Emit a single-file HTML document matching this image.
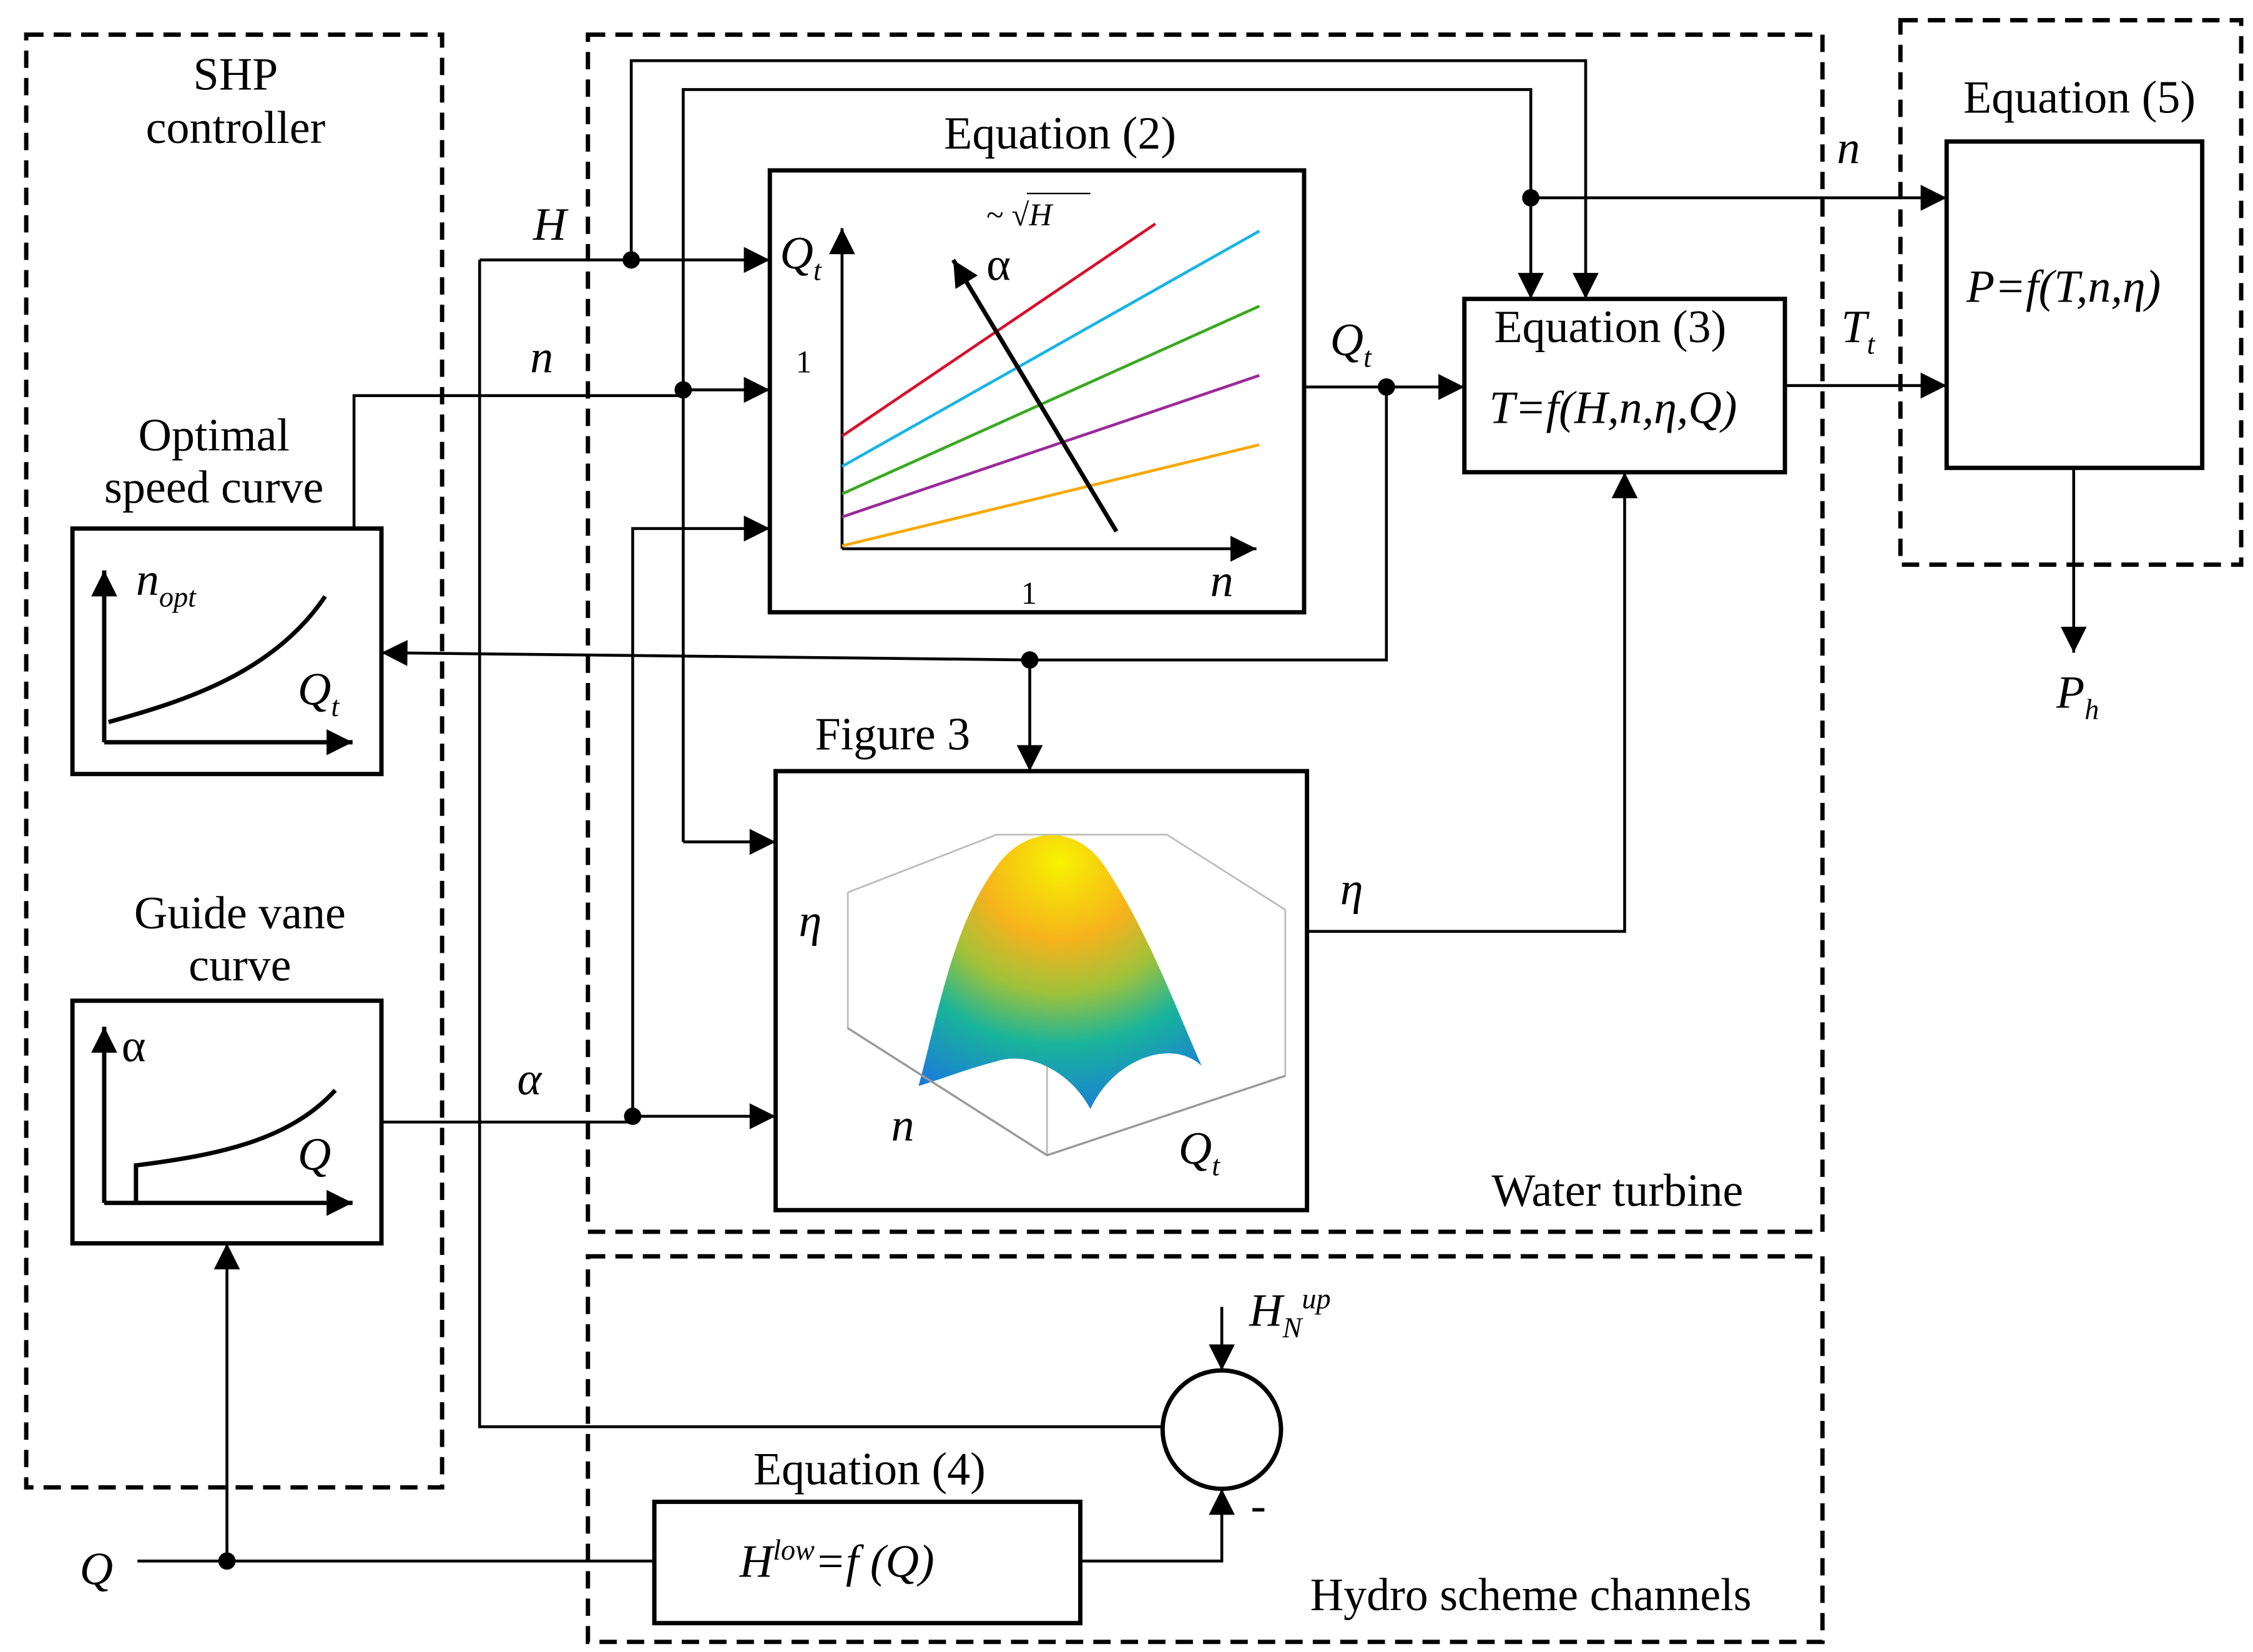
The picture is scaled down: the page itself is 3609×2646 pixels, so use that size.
<!DOCTYPE html>
<html><head><meta charset="utf-8"><style>
html,body{margin:0;padding:0;background:#fff;}
svg{display:block;}
text{font-family:"Liberation Serif",serif;fill:#000;}
.it{font-style:italic;}
</style></head><body>
<svg width="3609" height="2646" viewBox="0 0 1560 1144" xmlns="http://www.w3.org/2000/svg">
<defs>
<marker id="a" viewBox="0 0 10 10" refX="10" refY="5" markerWidth="8" markerHeight="8" markerUnits="userSpaceOnUse" orient="auto"><path d="M0,0 L10,5 L0,10 z" fill="#000"/></marker>
<marker id="b" viewBox="0 0 10 10" refX="10" refY="5" markerWidth="22" markerHeight="18" markerUnits="userSpaceOnUse" orient="auto"><path d="M0,0 L10,5 L0,10 z" fill="#000"/></marker>
<radialGradient id="g" cx="0.5" cy="0.1" r="0.95">
<stop offset="0" stop-color="#f7f200"/><stop offset="0.3" stop-color="#f6b21c"/><stop offset="0.5" stop-color="#9fc23a"/><stop offset="0.7" stop-color="#19b49a"/><stop offset="1" stop-color="#1a78e0"/>
</radialGradient>
</defs>
<g fill="none" stroke="#000" stroke-width="3" stroke-dasharray="12,7">
<rect x="18" y="24" width="288" height="1006"/>
<rect x="407" y="24" width="855" height="829"/>
<rect x="1316" y="14" width="236" height="377"/>
<rect x="407" y="870" width="855" height="267"/>
</g>
<g fill="none" stroke="#000" stroke-width="3">
<rect x="533" y="118" width="370" height="306"/>
<rect x="1014" y="207" width="222" height="120"/>
<rect x="1348" y="98" width="177" height="226"/>
<rect x="537" y="534" width="368" height="304"/>
<rect x="50" y="366" width="214" height="170"/>
<rect x="50" y="693" width="214" height="168"/>
<rect x="453" y="1040" width="295" height="84"/>
<circle cx="846" cy="990" r="41"/>
</g>
<g fill="none" stroke="#000" stroke-width="2">
<path d="M332,180 H533" marker-end="url(#b)"/>
<path d="M332,180 V988 H805"/>
<path d="M437,180 V42 H1098 V207" marker-end="url(#b)"/>
<path d="M473,583 V62 H1060 V207" marker-end="url(#b)"/>
<path d="M473,583 H537" marker-end="url(#b)"/>
<path d="M245,366 V274 H473 V270 H533" marker-end="url(#b)"/>
<path d="M1060,137 H1348" marker-end="url(#b)"/>
<path d="M264,777 H438 V773 H537" marker-end="url(#b)"/>
<path d="M438,773 V366 H533" marker-end="url(#b)"/>
<path d="M903,268 H1014" marker-end="url(#b)"/>
<path d="M960,268 V457 H713 L264,452" marker-end="url(#b)"/>
<path d="M713,457 V534" marker-end="url(#b)"/>
<path d="M905,645 H1125 V327" marker-end="url(#b)"/>
<path d="M1236,267 H1348" marker-end="url(#b)"/>
<path d="M1436,324 V452" marker-end="url(#b)"/>
<path d="M95,1081 H453"/>
<path d="M157,1081 V861" marker-end="url(#b)"/>
<path d="M748,1081 H846 V1031" marker-end="url(#b)"/>
<path d="M846,905 V949" marker-end="url(#b)"/>
</g>
<g fill="#000">
<circle cx="437" cy="180" r="6"/><circle cx="473" cy="270" r="6"/><circle cx="1060" cy="137" r="6"/>
<circle cx="960" cy="268" r="6"/><circle cx="713" cy="457" r="6"/><circle cx="438" cy="773" r="6"/>
<circle cx="157" cy="1081" r="6"/>
</g>
<!-- Eq2 plot -->
<g fill="none" stroke-width="2">
<path d="M583,380 V158" stroke="#000" marker-end="url(#b)"/>
<path d="M583,380 H870" stroke="#000" marker-end="url(#b)"/>
<path d="M583,302 L800,155" stroke="#d8102c"/>
<path d="M583,323 L872,160" stroke="#18b4e8"/>
<path d="M583,342 L872,212" stroke="#3aa820"/>
<path d="M583,358 L872,260" stroke="#9a2a9a"/>
<path d="M583,378 L872,308" stroke="#f6a800"/>
<path d="M773,368 L660,180" stroke="#000" stroke-width="3" marker-end="url(#b)"/>
</g>
<!-- 3D surface -->
<g fill="none" stroke="#bbb" stroke-width="1.2">
<path d="M587,618 L587,712 L725,800 L890,745 L890,630"/>
<path d="M587,618 L690,578 L808,578 L890,630"/>
<path d="M725,800 L725,700"/>
</g>
<path d="M636,752 C650,700 660,640 690,600 C710,572 745,570 765,600 C795,645 815,700 832,738 C810,718 770,735 755,768 C740,740 710,728 690,735 C670,740 650,748 636,752 Z" fill="url(#g)"/>
<path d="M587,712 L725,800 L890,745" fill="none" stroke="#999" stroke-width="1.5"/>
<!-- curves -->
<g fill="none" stroke="#000" stroke-width="3">
<path d="M72,514 V395" marker-end="url(#b)"/>
<path d="M72,514 H244" marker-end="url(#b)"/>
<path d="M75,500 C130,485 190,465 225,413"/>
<path d="M72,833 V711" marker-end="url(#b)"/>
<path d="M72,833 H244" marker-end="url(#b)"/>
<path d="M94,833 V807 C150,800 200,790 232,755"/>
</g>
<g font-size="32">
<text x="163" y="62" text-anchor="middle">SHP</text>
<text x="163" y="99" text-anchor="middle">controller</text>
<text x="148" y="312" text-anchor="middle">Optimal</text>
<text x="148" y="348" text-anchor="middle">speed curve</text>
<text x="166" y="643" text-anchor="middle">Guide vane</text>
<text x="166" y="679" text-anchor="middle">curve</text>
<text x="734" y="103" text-anchor="middle">Equation (2)</text>
<text x="1115" y="237" text-anchor="middle">Equation (3)</text>
<text x="1440" y="78" text-anchor="middle">Equation (5)</text>
<text x="618" y="519" text-anchor="middle">Figure 3</text>
<text x="602" y="1028" text-anchor="middle">Equation (4)</text>
<text x="1120" y="835" text-anchor="middle">Water turbine</text>
<text x="1060" y="1115" text-anchor="middle">Hydro scheme channels</text>
<text x="1117" y="293" text-anchor="middle" class="it">T=f(H,n,η,Q)</text>
<text x="1429" y="209" text-anchor="middle" class="it">P=f(T,n,η)</text>
<text x="512" y="1092" class="it">H<tspan font-size="20" dy="-12">low</tspan><tspan dy="12">=f (Q)</tspan></text>
<text x="369" y="166" class="it">H</text>
<text x="367" y="258" class="it">n</text>
<text x="358" y="758" class="it">α</text>
<text x="921" y="246" class="it">Q<tspan font-size="20" dy="8">t</tspan></text>
<text x="1272" y="113" class="it">n</text>
<text x="1275" y="237" class="it">T<tspan font-size="20" dy="8">t</tspan></text>
<text x="1424" y="490" class="it">P<tspan font-size="20" dy="8">h</tspan></text>
<text x="928" y="626" class="it">η</text>
<text x="55" y="1097" class="it">Q</text>
<text x="865" y="918" class="it">H<tspan font-size="20" dy="8">N</tspan><tspan font-size="20" dy="-20">up</tspan></text>
<text x="866" y="1053">-</text>
<text x="540" y="186" class="it">Q<tspan font-size="20" dy="8">t</tspan></text>
<text x="838" y="413" class="it">n</text>
<text x="683" y="194">α</text>
<text x="94" y="412" class="it">n<tspan font-size="20" dy="8">opt</tspan></text>
<text x="206" y="488" class="it">Q<tspan font-size="20" dy="8">t</tspan></text>
<text x="84" y="735">α</text>
<text x="206" y="810" class="it">Q</text>
<text x="553" y="648" class="it">η</text>
<text x="617" y="790" class="it">n</text>
<text x="816" y="806" class="it">Q<tspan font-size="20" dy="8">t</tspan></text>
</g>
<g font-size="22">
<text x="551" y="258">1</text>
<text x="707" y="418">1</text>
<text x="683" y="156">~ √<tspan class="it">H</tspan></text>
</g>
<path d="M711,134 H755" stroke="#000" stroke-width="1"/>
</svg>
</body></html>
